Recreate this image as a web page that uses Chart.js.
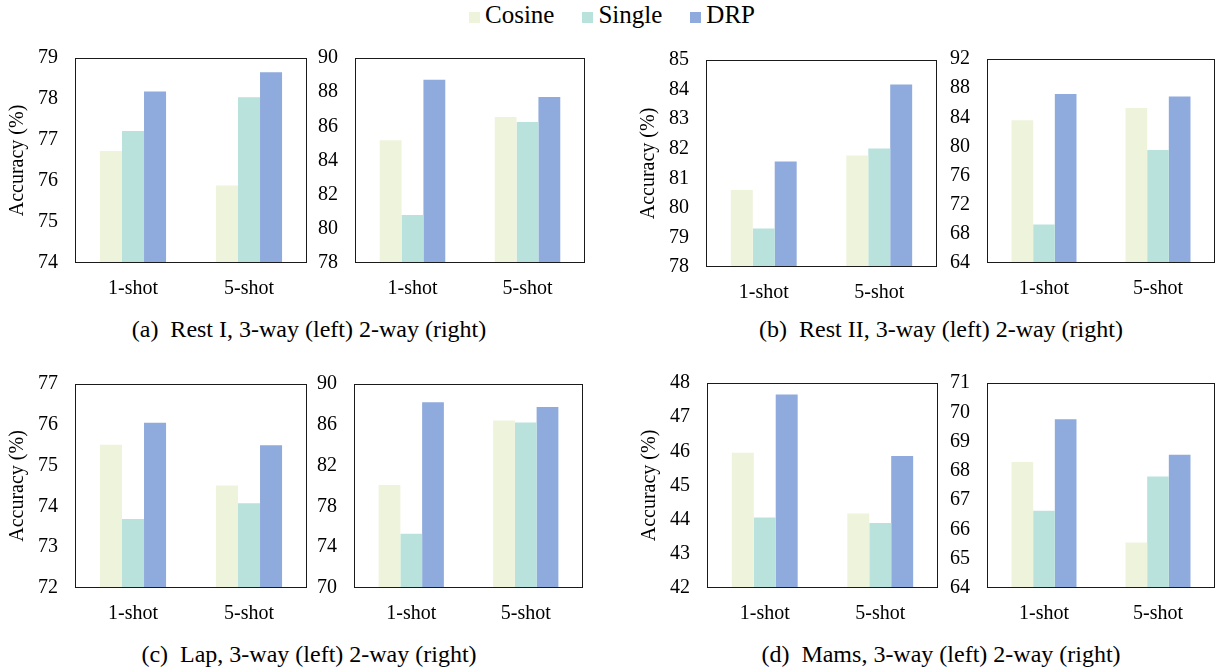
<!DOCTYPE html>
<html>
<head>
<meta charset="utf-8">
<script src="https://cdn.jsdelivr.net/npm/chart.js@4.4.1/dist/chart.umd.min.js"></script>
<style>
  html, body { margin: 0; padding: 0; background: #ffffff; }
  body { width: 1218px; height: 672px; position: relative; overflow: hidden; font-family: "Liberation Serif", "Times New Roman", serif; color: #000; }
  .cv { position: absolute; }
  .cap { position: absolute; font-size: 24px; white-space: pre; transform: translateX(-50%); line-height: 1; }
  #legend { position: absolute; top: 2px; left: 469px; font-size: 25px; line-height: 1; white-space: nowrap; }
  #legend span.item { display: inline-block; margin-right: 28px; }
  #legend span.item:last-child { margin-right: 0; }
  #legend span.sw { display: inline-block; width: 11px; height: 11px; margin-right: 5px; vertical-align: 0px; }
</style>
</head>
<body>
<div id="legend"></div>
<div class="cap" style="left:309px; top:317px;">(a)  Rest I, 3-way (left) 2-way (right)</div>
<div class="cap" style="left:941px; top:317px;">(b)  Rest II, 3-way (left) 2-way (right)</div>
<div class="cap" style="left:309px; top:642px;">(c)  Lap, 3-way (left) 2-way (right)</div>
<div class="cap" style="left:941px; top:642px;">(d)  Mams, 3-way (left) 2-way (right)</div>
<script>
// ---- data ----
const categories = ["1-shot", "5-shot"];
const seriesNames = ["Cosine", "Single", "DRP"];
const seriesColors = ["#EEF3DC", "#B9E2DD", "#8FAADC"];

// (a) Rest I
const restI_3way_cosine = [76.73, 75.89];
const restI_3way_single = [77.22, 78.04];
const restI_3way_drp    = [78.18, 78.65];
const restI_2way_cosine = [85.18, 86.55];
const restI_2way_single = [80.81, 86.26];
const restI_2way_drp    = [88.73, 87.72];
// (b) Rest II
const restII_3way_cosine = [80.60, 81.77];
const restII_3way_single = [79.30, 82.01];
const restII_3way_drp    = [81.57, 84.17];
const restII_2way_cosine = [83.60, 85.26];
const restII_2way_single = [69.30, 79.50];
const restII_2way_drp    = [87.20, 86.87];
// (c) Lap
const lap_3way_cosine = [75.51, 74.51];
const lap_3way_single = [73.69, 74.08];
const lap_3way_drp    = [76.05, 75.50];
const lap_2way_cosine = [80.11, 86.41];
const lap_2way_single = [75.32, 86.22];
const lap_2way_drp    = [88.20, 87.75];
// (d) Mams
const mams_3way_cosine = [45.96, 44.18];
const mams_3way_single = [44.06, 43.90];
const mams_3way_drp    = [47.66, 45.86];
const mams_2way_cosine = [68.30, 65.55];
const mams_2way_single = [66.64, 67.81];
const mams_2way_drp    = [69.76, 68.55];

// axis ranges: [min, max, step]
const restI_3way_axis  = [74, 79, 1];
const restI_2way_axis  = [78, 90, 2];
const restII_3way_axis = [78, 85, 1];
const restII_2way_axis = [64, 92, 4];
const lap_3way_axis    = [72, 77, 1];
const lap_2way_axis    = [70, 90, 4];
const mams_3way_axis   = [42, 48, 1];
const mams_2way_axis   = [64, 71, 1];

const yTitle = "Accuracy (%)";

// ---- legend (HTML) ----
const leg = document.getElementById('legend');
seriesNames.forEach((n, i) => {
  const it = document.createElement('span'); it.className = 'item';
  const sw = document.createElement('span'); sw.className = 'sw'; sw.style.background = seriesColors[i];
  it.appendChild(sw); it.appendChild(document.createTextNode(n));
  leg.appendChild(it);
});

// ---- layout (chart area boxes) ----
const FONT = "'Liberation Serif', 'Times New Roman', serif";
const PAD_TOP = 30, X_H = 48, PAD_R = 8;

const boxPlugin = {
  id: 'boxPlugin',
  afterDraw(chart) {
    const a = chart.chartArea, ctx = chart.ctx;
    ctx.save();
    ctx.strokeStyle = '#1a1a1a';
    ctx.lineWidth = 1;
    ctx.strokeRect(Math.round(a.left) + 0.5, Math.round(a.top) + 0.5, Math.round(a.right - a.left) - 1, Math.round(a.bottom - a.top) - 1);
    ctx.restore();
  }
};

function makeChart(box, series, axis, withTitle) {
  const [bl, bt, br, bb] = box;
  const yW = withTitle ? 70 : 48;
  const cv = document.createElement('canvas');
  cv.className = 'cv';
  const w = (br - bl) + yW + PAD_R;
  const h = (bb - bt) + PAD_TOP + X_H;
  cv.style.left = (bl - yW) + 'px';
  cv.style.top = (bt - PAD_TOP) + 'px';
  cv.style.width = w + 'px';
  cv.style.height = h + 'px';
  cv.width = w; cv.height = h;
  document.body.appendChild(cv);
  const chart = new Chart(cv, {
    type: 'bar',
    data: {
      labels: categories,
      datasets: series.map((d, i) => ({
        label: seriesNames[i],
        data: d,
        backgroundColor: seriesColors[i],
        borderWidth: 0,
        barPercentage: 1.0,
        categoryPercentage: 0.57
      }))
    },
    options: {
      responsive: false,
      animation: false,
      devicePixelRatio: 1,
      layout: { padding: { top: PAD_TOP, right: PAD_R, left: 0, bottom: 0 } },
      plugins: { legend: { display: false }, tooltip: { enabled: false } },
      scales: {
        x: {
          grid: { display: false, drawTicks: false },
          border: { display: false },
          ticks: { color: '#000', font: { family: FONT, size: 20 }, padding: 14, maxRotation: 0 },
          afterFit(s) { s.height = X_H; }
        },
        y: {
          min: axis[0], max: axis[1],
          grid: { display: false, drawTicks: false },
          border: { display: false },
          ticks: { stepSize: axis[2], color: '#000', font: { family: FONT, size: 20 }, padding: 17 },
          title: { display: withTitle, text: yTitle, color: '#000', font: { family: FONT, size: 20 }, padding: { top: 1, bottom: 0 } },
          afterFit(s) { s.width = yW; }
        }
      }
    },
    plugins: [boxPlugin]
  });
  // align the chart area exactly with the target box
  const a = chart.chartArea;
  cv.style.left = (bl - a.left) + 'px';
  cv.style.top = (bt - a.top) + 'px';
}

makeChart([75, 58, 307, 263], [restI_3way_cosine, restI_3way_single, restI_3way_drp], restI_3way_axis, true);
makeChart([355, 58, 585, 263], [restI_2way_cosine, restI_2way_single, restI_2way_drp], restI_2way_axis, false);
makeChart([706, 60, 937, 267], [restII_3way_cosine, restII_3way_single, restII_3way_drp], restII_3way_axis, true);
makeChart([987, 59, 1215, 263], [restII_2way_cosine, restII_2way_single, restII_2way_drp], restII_2way_axis, false);
makeChart([75, 384, 307, 588], [lap_3way_cosine, lap_3way_single, lap_3way_drp], lap_3way_axis, true);
makeChart([354, 384, 583, 588], [lap_2way_cosine, lap_2way_single, lap_2way_drp], lap_2way_axis, false);
makeChart([707, 383, 938, 588], [mams_3way_cosine, mams_3way_single, mams_3way_drp], mams_3way_axis, true);
makeChart([987, 383, 1215, 588], [mams_2way_cosine, mams_2way_single, mams_2way_drp], mams_2way_axis, false);
</script>
</body>
</html>
